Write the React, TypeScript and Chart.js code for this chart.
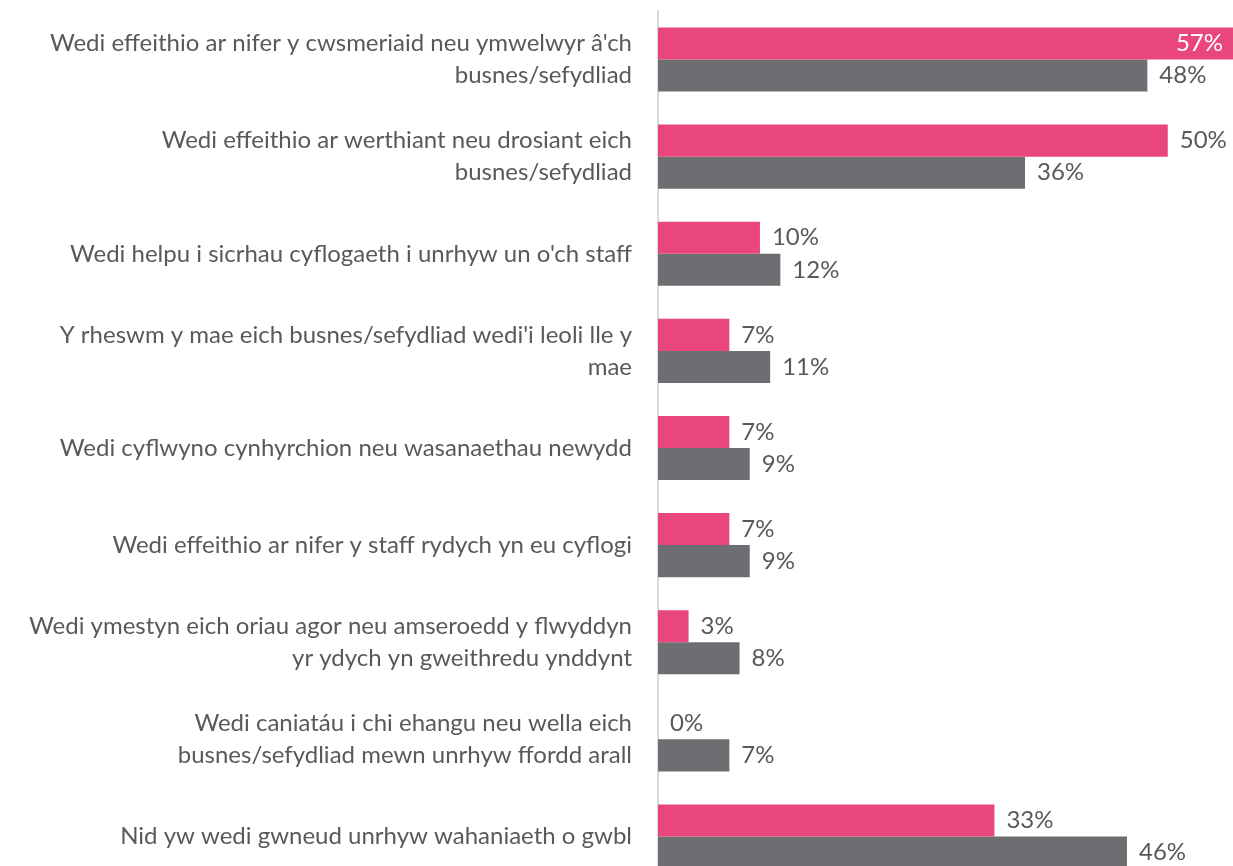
import React, { useEffect, useRef } from "react";
import { Chart, registerables } from "chart.js";

Chart.register(...registerables);

const categories: string[][] = [
  ["Wedi effeithio ar nifer y cwsmeriaid neu ymwelwyr â'ch", "busnes/sefydliad"],
  ["Wedi effeithio ar werthiant neu drosiant eich", "busnes/sefydliad"],
  ["Wedi helpu i sicrhau cyflogaeth i unrhyw un o'ch staff"],
  ["Y rheswm y mae eich busnes/sefydliad wedi'i leoli lle y", "mae"],
  ["Wedi cyflwyno cynhyrchion neu wasanaethau newydd"],
  ["Wedi effeithio ar nifer y staff rydych yn eu cyflogi"],
  ["Wedi ymestyn eich oriau agor neu amseroedd y flwyddyn", "yr ydych yn gweithredu ynddynt"],
  ["Wedi caniatáu i chi ehangu neu wella eich", "busnes/sefydliad mewn unrhyw ffordd arall"],
  ["Nid yw wedi gwneud unrhyw wahaniaeth o gwbl"],
];

const seriesPink: number[] = [57, 50, 10, 7, 7, 7, 3, 0, 33];
const seriesGrey: number[] = [48, 36, 12, 11, 9, 9, 8, 7, 46];

const PINK = "#E8467C";
const GREY = "#6D6E71";
const TEXT = "#595959";
const FONT = "Lato, 'Open Sans', sans-serif";
const X_MAX = 56.4;

const valueLabels = {
  id: "valueLabels",
  afterDatasetsDraw(chart: any) {
    const ctx = chart.ctx;
    const area = chart.chartArea;
    ctx.save();
    ctx.font = `24px ${FONT}`;
    ctx.textBaseline = "middle";
    chart.data.datasets.forEach((ds: any, di: number) => {
      const meta = chart.getDatasetMeta(di);
      meta.data.forEach((bar: any, i: number) => {
        const v = ds.data[i];
        const txt = `${v}%`;
        if (v > X_MAX - 3) {
          ctx.fillStyle = "#ffffff";
          ctx.textAlign = "right";
          ctx.fillText(txt, area.right - 10, bar.y);
        } else {
          ctx.fillStyle = TEXT;
          ctx.textAlign = "left";
          ctx.fillText(txt, Math.min(bar.x, area.right) + 12, bar.y);
        }
      });
    });
    ctx.restore();
  },
};

export default function App() {
  const ref = useRef<HTMLCanvasElement | null>(null);
  useEffect(() => {
    if (!ref.current) return;
    const chart = new Chart(ref.current, {
      type: "bar",
      data: {
        labels: categories,
        datasets: [
          { label: "Pink", data: seriesPink, backgroundColor: PINK, barPercentage: 1, categoryPercentage: 0.66 },
          { label: "Grey", data: seriesGrey, backgroundColor: GREY, barPercentage: 1, categoryPercentage: 0.66 },
        ],
      },
      options: {
        indexAxis: "y",
        animation: false,
        responsive: false,
        maintainAspectRatio: false,
        layout: { padding: { top: 11, bottom: 5, left: 0, right: 0 } },
        plugins: { legend: { display: false }, tooltip: { enabled: false } },
        scales: {
          x: { display: false, min: 0, max: X_MAX },
          y: {
            grid: { display: false, drawTicks: false },
            border: { display: true, color: "#D9D9D9", width: 2 },
            ticks: { color: TEXT, padding: 26, font: { family: FONT, size: 24, lineHeight: 1.33 } },
            afterFit(scale: any) {
              scale.width = 658;
              scale.paddingTop = 0;
              scale.paddingBottom = 0;
            },
          },
        },
      },
      plugins: [valueLabels],
    });
    return () => chart.destroy();
  }, []);
  return (
    <div style={{ position: "absolute", left: 0, top: 0, width: 1233, height: 866, overflow: "hidden", background: "#fff" }}>
      <canvas ref={ref} width={1233} height={890} style={{ display: "block", width: 1233, height: 890 }} />
    </div>
  );
}
